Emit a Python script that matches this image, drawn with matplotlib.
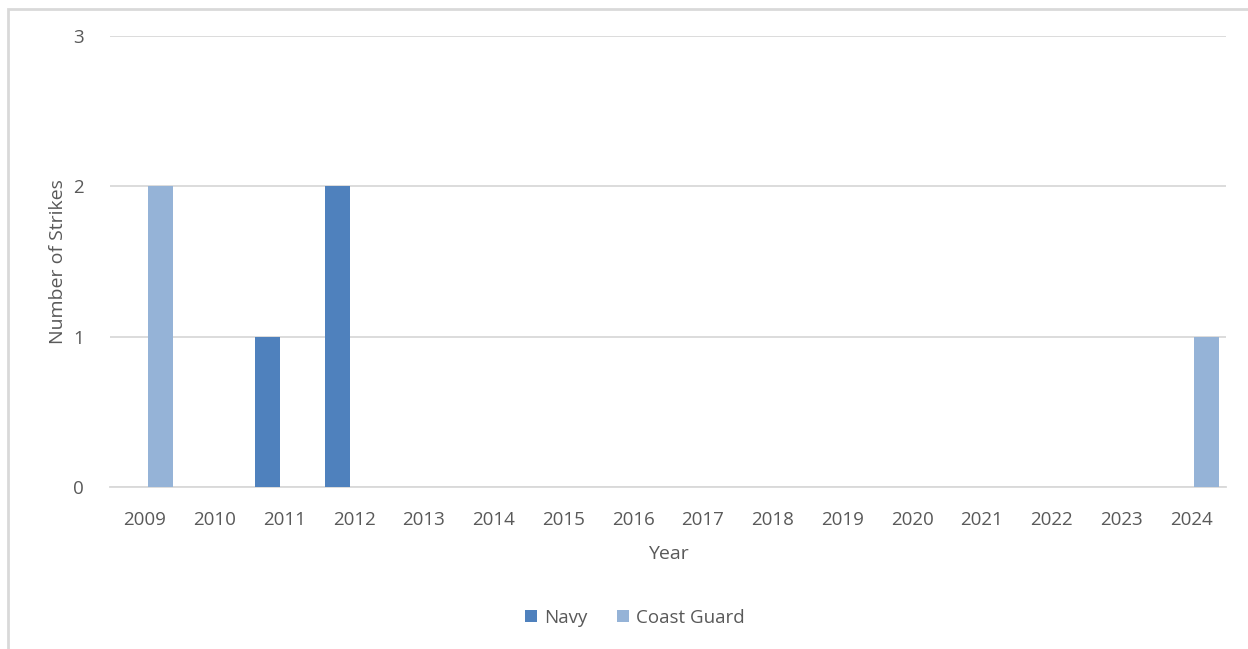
import matplotlib
matplotlib.use('Agg')
import matplotlib.pyplot as plt
import numpy as np
from matplotlib.patches import Rectangle

years = [str(y) for y in range(2009, 2025)]
navy = [0, 0, 1, 2, 0, 0, 0, 0, 0, 0, 0, 0, 0, 0, 0, 0]
coast_guard = [2, 0, 0, 0, 0, 0, 0, 0, 0, 0, 0, 0, 0, 0, 0, 1]

navy_color = '#4f81bd'
cg_color = '#95b3d7'
text_color = '#595959'
grid_color = '#d9d9d9'

plt.rcParams['font.family'] = ['Open Sans', 'DejaVu Sans']

W, H = 1248, 649
fig = plt.figure(figsize=(W / 100, H / 100), dpi=100)
ax = fig.add_axes([110 / W, 1 - 487 / H, (1226 - 110) / W, (487 - 36) / H])

x = np.arange(len(years))
bw = 0.36
ax.bar(x - 0.24, navy, bw, color=navy_color, label='Navy', zorder=3)
ax.bar(x + 0.22, coast_guard, bw, color=cg_color, label='Coast Guard', zorder=3)

ax.set_xlim(-0.5, len(years) - 0.5)
ax.set_ylim(0, 3)
ax.set_yticks([0, 1, 2, 3])
ax.set_xticks(x)
ax.set_xticklabels(years)
ax.yaxis.grid(True, color=grid_color, linewidth=1.3, zorder=0)
for s in ['top', 'right', 'left']:
    ax.spines[s].set_visible(False)
ax.spines['bottom'].set_color(grid_color)
ax.spines['bottom'].set_linewidth(1.3)
ax.tick_params(axis='both', length=0, labelsize=13.5, colors=text_color)
ax.tick_params(axis='y', pad=19)
ax.tick_params(axis='x', pad=17)

ax.set_ylabel('Number of Strikes', fontsize=14, color=text_color, labelpad=4)
ax.set_xlabel('Year', fontsize=14, color=text_color, labelpad=12)

fig.legend(loc='center', bbox_to_anchor=(635 / W, 1 - 618 / H), ncol=2, frameon=False,
           fontsize=13.5, labelcolor=text_color, handlelength=0.6, handleheight=0.6,
           handletextpad=0.4, columnspacing=1.6)

fig.patches.append(Rectangle((8 / W, -0.1), 1.2, 1.1 - 9 / H, transform=fig.transFigure,
                             fill=False, edgecolor=grid_color, linewidth=2))

fig.savefig('out.png', dpi=100)
